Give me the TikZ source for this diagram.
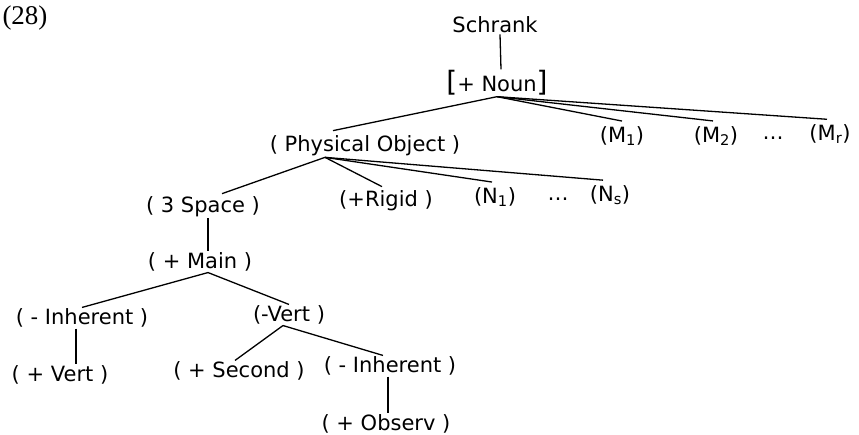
\documentclass[tikz,border=0pt]{standalone}
\usepackage{fontspec}
\setmainfont{DejaVu Sans}
\newfontfamily\exfont{Liberation Serif}
\usepackage{tikz}
\tikzset{%
  feat/.style={inner sep=1pt, font=\fontsize{21}{25}\selectfont},
  branch/.style={line width=1.3pt}
}
\newcommand{\bigbr}[1]{{\fontsize{28}{28}\selectfont #1}}

\begin{document}
\begin{tikzpicture}[x=1pt, y=-1pt]
    \useasboundingbox (0,0) rectangle (859,435);

    \node [font=\exfont\fontsize{27}{30}\selectfont] (ex) at (25,18) {(28)};

    \node [feat] (schrank) at (495,25)  {Schrank};
    \node [feat] (noun)    at (497,83)  {\bigbr{[}+ Noun\bigbr{]}};
    \node [feat] (po)      at (365,146) {( Physical Object )};
    \node [feat] (m1)      at (622,136) {(M\textsubscript{1})};
    \node [feat] (m2)      at (716,136) {(M\textsubscript{2})};
    \node [feat] (mdots)   at (773,138) {\dots};
    \node [feat] (mr)      at (830,134) {(M\textsubscript{r})};

    \node [feat] (space)   at (203,207) {( 3 Space )};
    \node [feat] (rigid)   at (386,201) {(+Rigid )};
    \node [feat] (n1)      at (495,197) {(N\textsubscript{1})};
    \node [feat] (ndots)   at (558,199) {\dots};
    \node [feat] (ns)      at (610,195) {(N\textsubscript{s})};

    \node [feat] (main)    at (200,262) {( + Main )};
    \node [feat] (inh)     at (82,318)  {( - Inherent )};
    \node [feat] (vert)    at (289,315) {(-Vert )};
    \node [feat] (pvert)   at (60,375)  {( + Vert )};
    \node [feat] (second)  at (239,371) {( + Second )};
    \node [feat] (inh2)    at (390,366) {( - Inherent )};
    \node [feat] (observ)  at (386,424) {( + Observ )};

    \draw [branch] ([xshift=5pt]schrank.south) -- ([xshift=4pt]noun.north);
    \draw [branch] (noun.south) -- ([xshift=-32pt,yshift=4pt]po.north);
    \draw [branch] (noun.south) -- ([yshift=4pt]m1.north);
    \draw [branch] (noun.south) -- ([xshift=-3pt,yshift=4pt]m2.north);
    \draw [branch] (noun.south) -- ([xshift=-3pt,yshift=4pt]mr.north);

    \draw [branch] ([xshift=-40pt]po.south) -- ([xshift=19pt,yshift=2pt]space.north);
    \draw [branch] ([xshift=-40pt]po.south) -- ([xshift=-4pt,yshift=3pt]rigid.north);
    \draw [branch] ([xshift=-40pt]po.south) -- ([xshift=-3pt,yshift=4pt]n1.north);
    \draw [branch] ([xshift=-40pt]po.south) -- ([xshift=-7pt,yshift=4pt]ns.north);

    \draw [branch] ([xshift=5pt]space.south) -- ([xshift=8pt]main.north);
    \draw [branch] ([xshift=8pt]main.south) -- (inh.north);
    \draw [branch] ([xshift=8pt]main.south) -- (vert.north);

    \draw [branch] ([xshift=-6pt]inh.south) -- ([xshift=16pt]pvert.north);
    \draw [branch] ([xshift=-6pt]vert.south) -- ([xshift=-4pt]second.north);
    \draw [branch] ([xshift=-6pt]vert.south) -- ([xshift=-7pt]inh2.north);
    \draw [branch] ([xshift=-2pt]inh2.south) -- ([xshift=2pt]observ.north);
\end{tikzpicture}
\end{document}
